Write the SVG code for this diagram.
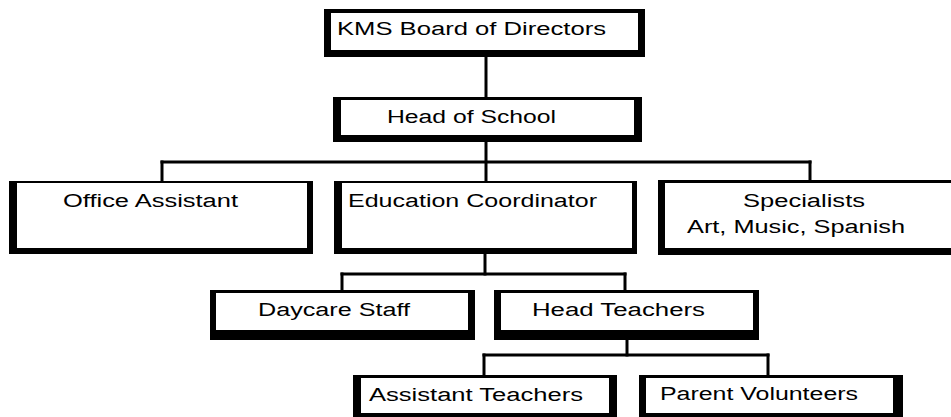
<svg xmlns="http://www.w3.org/2000/svg" width="951" height="417" viewBox="0 0 951 417">
<style>
.o{fill:#000}
.i{fill:#fff}
.c line{stroke:#000;stroke-width:3;stroke-linecap:square}
text{font-family:"Liberation Sans",Arial,sans-serif;font-size:18px;fill:#000}
</style>
<rect width="951" height="417" fill="#fff"/>
<g id="connectors" class="c">
<line x1="486" y1="57" x2="486" y2="97"/>
<line x1="486" y1="142" x2="486" y2="181"/>
<line x1="162" y1="162" x2="810" y2="162"/>
<line x1="162" y1="162" x2="162" y2="181"/>
<line x1="810" y1="162" x2="810" y2="181"/>
<line x1="485" y1="254" x2="485" y2="274"/>
<line x1="342" y1="274" x2="625" y2="274"/>
<line x1="342" y1="274" x2="342" y2="290"/>
<line x1="625" y1="274" x2="625" y2="290"/>
<line x1="627" y1="340" x2="627" y2="355"/>
<line x1="484" y1="355" x2="768" y2="355"/>
<line x1="484" y1="355" x2="484" y2="375"/>
<line x1="768" y1="355" x2="768" y2="375"/>
</g>
<g id="board">
<rect class="o" x="324" y="9" width="321" height="48"/>
<rect class="i" x="331" y="13" width="307" height="37"/>
<text x="337" y="35" textLength="269" lengthAdjust="spacingAndGlyphs">KMS Board of Directors</text>
</g>
<g id="head">
<rect class="o" x="333" y="97" width="309" height="45"/>
<rect class="i" x="341" y="100" width="293" height="35"/>
<text x="387" y="123" textLength="169" lengthAdjust="spacingAndGlyphs">Head of School</text>
</g>
<g id="office">
<rect class="o" x="9" y="181" width="304" height="73"/>
<rect class="i" x="17" y="183" width="290" height="65"/>
<text x="63" y="207" textLength="175" lengthAdjust="spacingAndGlyphs">Office Assistant</text>
</g>
<g id="education">
<rect class="o" x="334" y="181" width="303" height="73"/>
<rect class="i" x="342" y="183" width="290" height="65"/>
<text x="348" y="207" textLength="249" lengthAdjust="spacingAndGlyphs">Education Coordinator</text>
</g>
<g id="specialists">
<rect class="o" x="658" y="180" width="293" height="75"/>
<rect class="i" x="665" y="183" width="286" height="65"/>
<text x="743" y="207" textLength="122" lengthAdjust="spacingAndGlyphs">Specialists</text>
<text x="687" y="233" textLength="218" lengthAdjust="spacingAndGlyphs">Art, Music, Spanish</text>
</g>
<g id="daycare">
<rect class="o" x="210" y="290" width="265" height="50"/>
<rect class="i" x="216" y="293" width="252" height="37"/>
<text x="258" y="316" textLength="152" lengthAdjust="spacingAndGlyphs">Daycare Staff</text>
</g>
<g id="headteachers">
<rect class="o" x="494" y="290" width="265" height="50"/>
<rect class="i" x="501" y="293" width="252" height="37"/>
<text x="532" y="316" textLength="173" lengthAdjust="spacingAndGlyphs">Head Teachers</text>
</g>
<g id="assistant">
<rect class="o" x="353" y="375" width="264" height="42"/>
<rect class="i" x="361" y="378" width="248" height="35"/>
<text x="369" y="401" textLength="214" lengthAdjust="spacingAndGlyphs">Assistant Teachers</text>
</g>
<g id="parent">
<rect class="o" x="639" y="375" width="264" height="42"/>
<rect class="i" x="646" y="378" width="247" height="35"/>
<text x="660" y="400" textLength="198" lengthAdjust="spacingAndGlyphs">Parent Volunteers</text>
</g>
</svg>
